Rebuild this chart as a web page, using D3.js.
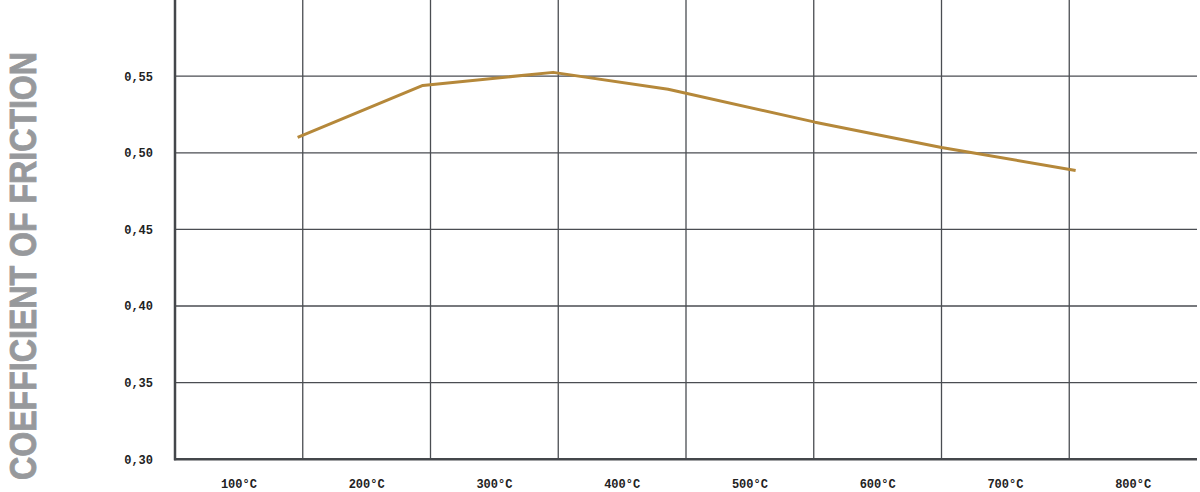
<!DOCTYPE html>
<html>
<head>
<meta charset="utf-8">
<script src="https://cdn.jsdelivr.net/npm/d3@7/dist/d3.min.js"></script>
<style>
  html, body { margin: 0; padding: 0; background: #fff; }
  svg { display: block; }
</style>
</head>
<body>
<svg id="chart" width="1200" height="492"></svg>
<script>
// Data
const categories = [100, 200, 300, 400, 500, 600, 700, 800];
const categoryLabels = ["100°C", "200°C", "300°C", "400°C", "500°C", "600°C", "700°C", "800°C"];
const yTicks = [0.30, 0.35, 0.40, 0.45, 0.50, 0.55];
const temps = [146, 244, 346, 436, 551, 650, 755];
const friction = [0.510, 0.544, 0.5525, 0.5415, 0.520, 0.5035, 0.4885];
const yTitle = "COEFFICIENT OF FRICTION";

(function () {
const svg = d3.select("#chart");
const mLeft = 175, mRight = 1197, mTop = -0.4, mBottom = 459.2;

const xBand = d3.scaleBand().domain(categories).range([mLeft, mRight]).padding(0);
const x = d3.scaleLinear().domain([50, 850]).range([mLeft, mRight]);
const y = d3.scaleLinear().domain([0.30, 0.60]).range([mBottom, mTop]);

const gridColor = "#4a4d52";

// horizontal grid
svg.append("g").selectAll("line")
  .data(yTicks.filter(d => d > 0.30))
  .join("line")
  .attr("x1", mLeft).attr("x2", mRight)
  .attr("y1", d => y(d)).attr("y2", d => y(d))
  .attr("stroke", gridColor).attr("stroke-width", 1.3);

// vertical grid (band boundaries)
svg.append("g").selectAll("line")
  .data(categories.slice(1))
  .join("line")
  .attr("x1", d => xBand(d)).attr("x2", d => xBand(d))
  .attr("y1", 0).attr("y2", mBottom)
  .attr("stroke", gridColor).attr("stroke-width", 1.3);

// axes lines
svg.append("line").attr("x1", mLeft).attr("x2", mLeft).attr("y1", 0).attr("y2", mBottom + 1)
  .attr("stroke", "#44474b").attr("stroke-width", 2.5);
svg.append("line").attr("x1", mLeft - 1).attr("x2", mRight).attr("y1", mBottom).attr("y2", mBottom)
  .attr("stroke", "#44474b").attr("stroke-width", 2.5);

// y tick labels
const yAxis = d3.axisLeft(y).tickValues(yTicks).tickSize(0).tickPadding(22)
  .tickFormat(d => d3.format(".2f")(d).replace(".", ","));
const gy = svg.append("g").attr("transform", `translate(${mLeft},0)`).call(yAxis);
gy.select(".domain").remove();
gy.selectAll("text")
  .attr("font-family", "'Liberation Mono', 'DejaVu Sans Mono', monospace")
  .attr("font-size", 12).attr("font-weight", "bold").attr("fill", "#222");

// x tick labels
const xAxis = d3.axisBottom(xBand).tickSize(0).tickPadding(20)
  .tickFormat((d, i) => categoryLabels[i]);
const gx = svg.append("g").attr("transform", `translate(0,${mBottom})`).call(xAxis);
gx.select(".domain").remove();
gx.selectAll("text")
  .attr("font-family", "'Liberation Mono', 'DejaVu Sans Mono', monospace")
  .attr("font-size", 12).attr("font-weight", "bold").attr("fill", "#222");

// line
const pts = temps.map((t, i) => [t, friction[i]]);
svg.append("path")
  .datum(pts)
  .attr("fill", "none")
  .attr("stroke", "#b5883a")
  .attr("stroke-width", 3)
  .attr("stroke-linejoin", "round")
  .attr("d", d3.line().x(d => x(d[0])).y(d => y(d[1])));

// y title
svg.append("text")
  .attr("transform", "translate(35.5,266) rotate(-90)")
  .attr("text-anchor", "middle")
  .attr("font-family", "'Liberation Sans', Arial, sans-serif")
  .attr("font-weight", "bold")
  .attr("font-size", 37)
  .attr("fill", "#97999c")
  .attr("stroke", "#97999c")
  .attr("stroke-width", 0.9)
  .attr("textLength", 428)
  .attr("lengthAdjust", "spacingAndGlyphs")
  .text(yTitle);
})();
</script>
</body>
</html>
